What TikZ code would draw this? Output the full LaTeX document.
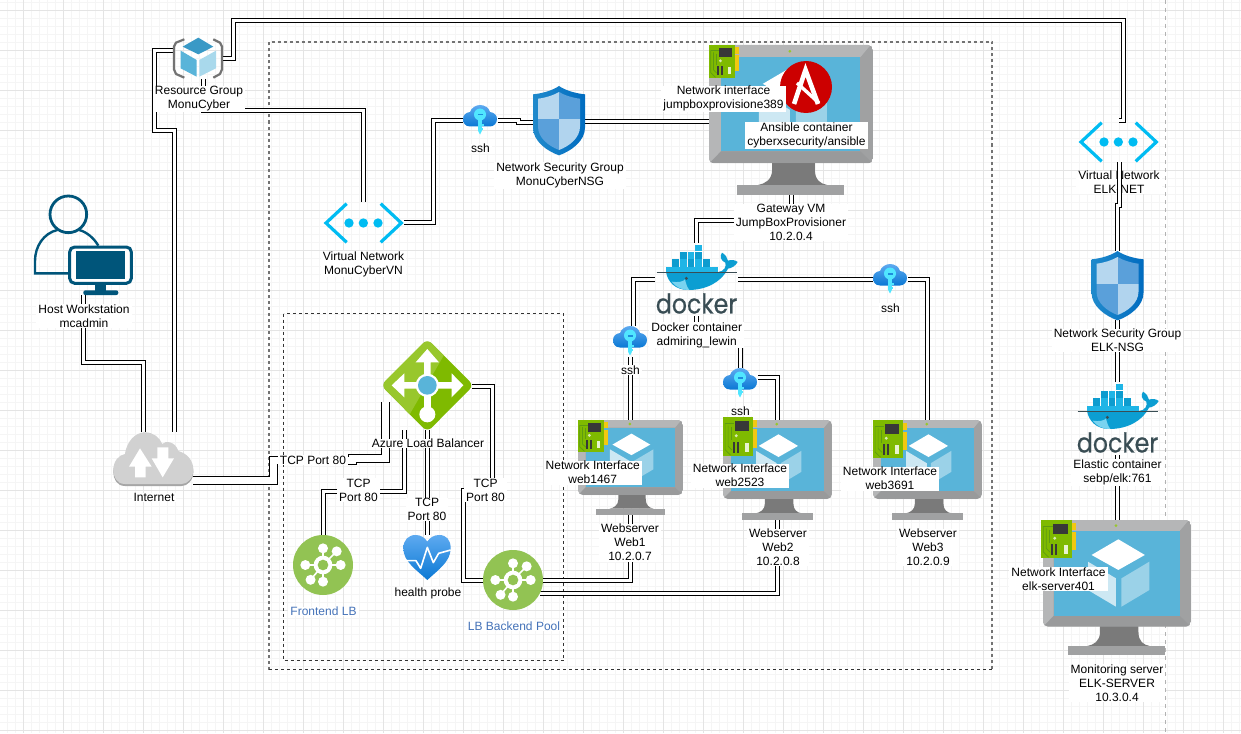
\documentclass[tikz,border=0pt]{standalone}
\usepackage{fontspec}
\setmainfont{Liberation Sans}
\newfontfamily\dockerfont[FakeBold=0.5]{Poppins}
\usetikzlibrary{fit,calc}
\pgfdeclarelayer{gridlayer}\pgfdeclarelayer{edgelayer}\pgfdeclarelayer{toplayer}\pgfdeclarelayer{overlayer}
\pgfsetlayers{gridlayer,edgelayer,main,toplayer,overlayer}
\definecolor{gridmaj}{HTML}{E4E4E4}
\definecolor{gridmin}{HTML}{F5F5F5}
\definecolor{azgreen}{HTML}{7FBA00}
\definecolor{azgreenl}{HTML}{98C72C}
\definecolor{hubgreen}{HTML}{92C353}
\definecolor{azscreen}{HTML}{59B4D9}
\definecolor{framedk}{HTML}{A0A1A2}
\definecolor{framelt}{HTML}{B5B6B7}
\definecolor{neckgr}{HTML}{7A7A7A}
\definecolor{vnetblue}{HTML}{00BCF2}
\definecolor{persblue}{HTML}{00557A}
\definecolor{lblblue}{HTML}{4472B8}
\definecolor{nictab}{HTML}{F2C811}
\definecolor{nictrace}{HTML}{5E9B12}
\definecolor{dockertxt}{HTML}{394D54}
\definecolor{hullblue}{HTML}{0C9ED2}
\definecolor{contA}{HTML}{1FB5E6}
\definecolor{contB}{HTML}{0D9CCF}
\definecolor{gradtop}{RGB}{94,170,240}
\definecolor{gradbot}{RGB}{10,120,212}
\definecolor{shieldl}{RGB}{32,138,204}
\definecolor{shieldr}{RGB}{0,108,192}
\definecolor{panelA}{RGB}{182,215,239}
\definecolor{panelB}{RGB}{90,160,218}
\definecolor{panelC}{RGB}{177,212,238}
\definecolor{keycyan}{RGB}{80,230,255}
\definecolor{keyslot}{RGB}{30,140,220}
\definecolor{rgtop}{RGB}{57,153,198}
\definecolor{rgright}{RGB}{169,217,236}
\definecolor{ansred}{RGB}{204,0,0}
\tikzset{
  zoomed/.style={x=.33333pt,y=-.33333pt},
  iconbox/.style={inner sep=0pt,outer sep=0pt,draw=none},
  conn/.style={draw=black,line width=1pt,double=white,double distance=3pt,line join=miter},
  connwide/.style={draw=black,line width=1pt,double=white,double distance=7pt,line join=miter},
  lab/.style={fill=white,inner xsep=2pt,inner ysep=.5pt,align=center,font=\fontsize{12}{14}\selectfont},
  bluelab/.style={lab,text=lblblue},
  dashbox/.style={draw=black!80,line width=1pt,dash pattern=on 3pt off 3pt},
  dashsoft/.style={draw=black!55,line width=2pt,dash pattern=on 3pt off 3pt},
  dockerword/.style={inner sep=0pt,text=dockertxt,font=\dockerfont\fontsize{23.7}{23.7}\selectfont},
}
\newcommand{\lbl}[4][lab]{\node[#1] (#2) at (#3) {#4};}
% virtual machine monitor
\newcommand{\vmicon}[5]{%
  \node[iconbox,fit={(#2,#3) (#4,#5)}] (#1) {};
  \pgfmathsetmacro\vmw{#4-#2}\pgfmathsetmacro\vmh{#5-#3}
  \begin{scope}[shift={(#2,#3)},x=\vmw pt,y=-\vmh pt]
    \fill[neckgr] (.385,.78) -- (.385,.83) .. controls (.385,.9) and (.34,.925) .. (.30,.933) -- (.72,.933) .. controls (.68,.925) and (.645,.9) .. (.645,.83) -- (.645,.78) -- cycle;
    \fill[framedk] (.17,.933) rectangle (.826,1);
    \begin{scope}
      \clip[rounded corners=5pt] (0,0) rectangle (1,.79);
      \fill[framedk] (0,0) rectangle (1,.79);
      \fill[framelt] (0,0) -- (.985,0) -- (.923,.081) -- (.072,.081) -- (.072,.709) -- (0,.79) -- cycle;
      \fill[framedk!85!black,opacity=.25] (.072,.709) -- (0,.79) -- (1,.79) -- (.923,.709) -- cycle;
    \end{scope}
    \fill[azscreen] (.072,.081) rectangle (.923,.709);
    \fill[azgreenl] (.493,.042) circle (1.5pt);
    \fill[white] (.509,.143) -- (.688,.259) -- (.509,.370) -- (.328,.259) -- cycle;
    \fill[white,opacity=.7] (.304,.309) -- (.493,.432) -- (.493,.642) -- (.304,.519) -- cycle;
    \fill[white,opacity=.4] (.530,.432) -- (.718,.309) -- (.718,.519) -- (.530,.642) -- cycle;
  \end{scope}}
% network interface card
\newcommand{\nicicon}[5]{%
  \node[iconbox,fit={(#2,#3) (#4,#5)}] (#1) {};
  \pgfmathsetmacro\vmw{#4-#2}\pgfmathsetmacro\vmh{#5-#3}
  \begin{scope}[shift={(#2,#3)},x=\vmw pt,y=-\vmh pt]
    \fill[nictab] (1,.07) rectangle (1.14,.26);
    \fill[nictab] (1,.31) rectangle (1.14,.79);
    \fill[azgreen] (0,0) rectangle (1,1);
    \draw[nictrace,line width=.7pt] (.07,.16) -- (.07,.84) -- (.25,.98);
    \draw[nictrace,line width=.7pt] (.17,.22) -- (.17,.75) -- (.3,.85);
    \draw[nictrace,line width=.7pt] (.07,.16) -- (.38,.16);
    \draw[nictrace,line width=.7pt] (.28,.26) -- (.28,.6);
    \fill[black!78] (.39,.1) rectangle (.88,.36);
    \fill[azgreen!30!white] (.44,.48) circle (1.6pt);
    \fill[black!78] (.32,.64) rectangle (.4,.92);
    \fill[black!78] (.45,.64) rectangle (.53,.92);
    \fill[azgreen!18!white] (.74,.66) rectangle (.86,.89);
  \end{scope}}
% cloud with key
\newcommand{\sshicon}[3]{%
  \node[iconbox,fit={(#2,#3) ($(#2,#3)+(35,31)$)}] (#1) {};
  \begin{scope}[shift={(#2,#3)}]
    \path[top color=gradtop,bottom color=gradbot]
      (7,21.5) .. controls (2,21.5) and (0,17.5) .. (0,14) .. controls (0,10) and (3,7.5) .. (7,7) .. controls (8,3) and (13,0) .. (17,0) .. controls (22,0) and (26,3) .. (27,7) .. controls (31,7.5) and (34,10) .. (34,14) .. controls (34,18) and (31,21.5) .. (27,21.5) -- cycle;
    \fill[keycyan] (17,9.5) circle (6);
    \fill[keycyan] (15.2,13) -- (18.8,13) -- (18.8,26) -- (17,29.5) -- (15.2,26) -- cycle;
    \fill[keycyan] (18.8,19) rectangle (20.5,21);
    \fill[keycyan] (18.8,23) rectangle (20,25);
    \fill[keyslot] (14.5,9) rectangle (19.5,10.5);
  \end{scope}}
% security shield
\newcommand{\shieldicon}[3]{%
  \node[iconbox,fit={(#2,#3) ($(#2,#3)+(52,69)$)}] (#1) {};
  \begin{scope}[shift={(#2,#3)},zoomed]
    \path[left color=shieldl,right color=shieldr]
      (78,0) .. controls (95,12) and (125,22) .. (156,25) -- (156,125) .. controls (156,165) and (115,195) .. (78,208) .. controls (41,195) and (0,165) .. (0,125) -- (0,25) .. controls (31,22) and (61,12) .. (78,0) -- cycle;
    \begin{scope}
      \clip (78,18) .. controls (95,28) and (120,36) .. (141,38) -- (141,122) .. controls (141,155) and (110,180) .. (78,192) .. controls (46,180) and (15,155) .. (15,122) -- (15,38) .. controls (36,36) and (61,28) .. (78,18) -- cycle;
      \fill[panelA] (0,0) rectangle (78,98);
      \fill[panelB] (78,0) rectangle (156,98);
      \fill[panelB] (0,98) rectangle (78,208);
      \fill[panelC] (78,98) rectangle (156,208);
    \end{scope}
  \end{scope}}
% virtual network
\newcommand{\vneticon}[3]{%
  \node[iconbox,fit={(#2,#3) ($(#2,#3)+(80,41)$)}] (#1) {};
  \begin{scope}[shift={(#2,#3)},zoomed]
    \draw[vnetblue,line width=3.2pt] (68,5) -- (6,63) -- (68,121);
    \draw[vnetblue,line width=3.2pt] (170,5) -- (232,63) -- (170,121);
    \fill[vnetblue] (75,63) circle (14) (118,63) circle (14) (162,63) circle (14);
  \end{scope}}
% docker whale and word
\newcommand{\dockericon}[3]{%
  \node[iconbox,fit={($(655,243)+(#2,#3)$) ($(738,316)+(#2,#3)$)}] (#1) {};
  \node[dockerword] (#1word) at ($(696.5,303.5)+(#2,#3)$) {\scalebox{1}[1.15]{docker}};
  \begin{scope}[shift={($(650,240)+(#2,#3)$)},zoomed]
    \foreach \xa/\xb in {67/88,113/133,158/180}{\fill[contB] (\xa,58) rectangle (\xb,80);}
    \foreach \xa/\xb in {90/110,135/156}{\fill[contA] (\xa,58) rectangle (\xb,80);}
    \foreach \xa/\xb in {90/110,135/156}{\fill[contB] (\xa,36) rectangle (\xb,56);}
    \fill[contA] (113,36) rectangle (133,56);
    \fill[contA] (135,15) rectangle (156,34);
    \fill[contA] (48,82) rectangle (205,98);
    \fill[hullblue] (48,96) -- (205,96) .. controls (222,94) and (230,80) .. (226,68) .. controls (212,62) and (208,48) .. (216,38) .. controls (226,44) and (232,52) .. (234,62) .. controls (244,58) and (256,60) .. (263,66) .. controls (256,78) and (246,84) .. (234,86) .. controls (215,125) and (170,150) .. (115,150) .. controls (75,150) and (53,125) .. (48,96) -- cycle;
    \fill[contA!60!white] (65,125) .. controls (85,128) and (100,125) .. (105,118) .. controls (108,130) and (110,140) .. (118,150) .. controls (95,150) and (78,142) .. (65,125) -- cycle;
    \fill[dockertxt] (109,115) circle (5);
    \draw[dockertxt,line width=.8pt] (20,98) -- (262,98);
  \end{scope}}
% backend / frontend hub
\newcommand{\hubicon}[3]{%
  \node[circle,iconbox,fill=hubgreen,minimum size=60pt] (#1) at (#2,#3) {};
  \begin{scope}[shift={(#2,#3)},zoomed]
    \foreach \ang/\rad in {90/50,130/58,180/53,270/50,315/58,0/53}{
      \draw[white,line width=1.6pt] (0,0) -- (\ang:\rad);
      \fill[white] (\ang:\rad) circle (15);
    }
    \fill[white] (0,0) circle (28);
    \fill[hubgreen] (0,0) circle (16);
  \end{scope}}
\begin{document}
\begin{tikzpicture}[x=1pt,y=-1pt]
\useasboundingbox (0,0) rectangle (1241,733);
\begin{pgfonlayer}{gridlayer}
  \fill[white] (0,0) rectangle (1241,733);
  \foreach \k in {0,...,155}{\draw[gridmin,line width=.8pt] ({\k*8-.5},0) -- ({\k*8-.5},733);}
  \foreach \k in {0,...,92}{\draw[gridmin,line width=.8pt] (0,{\k*8+2.5}) -- (1241,{\k*8+2.5});}
  \foreach \k in {0,...,30}{\draw[gridmaj,line width=1pt] ({\k*40+23.5},0) -- ({\k*40+23.5},733);}
  \foreach \k in {0,...,18}{\draw[gridmaj,line width=1pt] (0,{\k*40+10.5}) -- (1241,{\k*40+10.5});}
\end{pgfonlayer}

% ---------- icons ----------
\node[iconbox,fit={(173,38) (223,79)}] (rg) {};
\begin{scope}[zoomed]
  \draw[black!55,line width=2.2pt,line join=round] (553,118) -- (528,128) -- (522,140) -- (522,208) -- (528,222) -- (553,233);
  \draw[black!55,line width=2.2pt,line join=round] (640,118) -- (660,128) -- (666,140) -- (666,208) -- (660,222) -- (640,233);
  \fill[rgtop] (595,113) -- (640,140) -- (595,163) -- (548,140) -- cycle;
  \fill[azscreen] (542,152) -- (590,180) -- (590,230) -- (542,205) -- cycle;
  \fill[rgright] (598,180) -- (648,152) -- (648,205) -- (598,230) -- cycle;
\end{scope}

\node[iconbox,fit={(34,195) (133,295)}] (person) {};
\begin{scope}[shift={(0,185)},zoomed]
  \draw[persblue,line width=2.8pt] (205,88) circle (55);
  \draw[persblue,line width=2.4pt,line join=miter] (210,265) -- (105,265) -- (105,228) .. controls (105,185) and (130,145) .. (172,135);
  \draw[persblue,line width=2.4pt] (238,135) .. controls (262,142) and (282,160) .. (295,182);
  \draw[persblue,line width=3pt,rounded corners=5pt,fill=white] (209,186) rectangle (394,295);
  \fill[persblue] (228,198) rectangle (376,282);
  \fill[persblue] (285,298) rectangle (318,318);
  \fill[persblue,rounded corners=2pt] (250,316) rectangle (355,330);
\end{scope}

\node[iconbox,fit={(113,432) (193,486)}] (inet) {};
\begin{scope}[shift={(100,320)},zoomed]
  \foreach \off/\col in {6/black!35,0/black!18}{
  \fill[\col,yshift=-\off*.3333pt] (75,492) .. controls (50,492) and (40,470) .. (40,450) .. controls (40,425) and (55,405) .. (75,402) .. controls (80,365) and (105,337) .. (135,337) .. controls (160,337) and (178,352) .. (187,372) .. controls (195,362) and (225,362) .. (235,393) .. controls (260,400) and (280,420) .. (280,450) .. controls (280,475) and (262,492) .. (245,492) -- cycle;}
  \fill[white] (120,385) -- (155,440) -- (137,440) -- (137,472) -- (105,472) -- (105,440) -- (87,440) -- cycle;
  \fill[white] (188,472) -- (222,415) -- (205,415) -- (205,382) -- (172,382) -- (172,415) -- (155,415) -- cycle;
\end{scope}

\vneticon{vnetA}{324}{202}
\vneticon{vnetE}{1079}{121}
\sshicon{sshA}{463}{105}
\sshicon{ssh1}{613}{326}
\sshicon{ssh2}{723}{368}
\sshicon{ssh3}{873}{264}
\shieldicon{nsgA}{533}{86}
\shieldicon{nsgE}{1091.5}{251}

\vmicon{jump}{709}{45}{873}{195}
\nicicon{nicJ}{709}{45}{735}{78}
\fill[ansred] (806,87) circle (26);
\draw[white,line width=4.6pt,line join=miter] (794,104) -- (805.5,70) -- (818,104);
\draw[white,line width=3.4pt] (797,83) -- (819,103);

\vmicon{web1}{578}{420}{683}{515}
\nicicon{nic1}{578}{420}{604}{452}
\vmicon{web2}{723}{420}{832}{520}
\nicicon{nic2}{723}{417}{753}{456}
\vmicon{web3}{873}{420}{982}{520}
\nicicon{nic3}{873}{420}{903}{458}
\vmicon{elk}{1043}{520}{1191}{655}
\nicicon{nicE}{1041}{520}{1072}{558}

\dockericon{dockA}{0}{0}
\dockericon{dockE}{421}{139}

% load balancer
\node[iconbox,fit={(383,342) (472,430)}] (lb) {};
\begin{scope}[shift={(375,335)},zoomed]
  \fill[azgreen,rounded corners=6pt] (157,12) -- (296,151) -- (157,291) -- (18,151) -- cycle;
  \begin{scope}
    \clip[rounded corners=6pt] (157,12) -- (296,151) -- (157,291) -- (18,151) -- cycle;
    \fill[azgreenl] (0,0) -- (210,0) -- (210,55) -- (100,245) -- (0,245) -- cycle;
  \end{scope}
  \fill[white] (157,42) -- (192,82) -- (167,82) -- (167,140) -- (147,140) -- (147,82) -- (122,82) -- cycle;
  \fill[white] (50,151) -- (88,115) -- (88,141) -- (130,141) -- (130,161) -- (88,161) -- (88,187) -- cycle;
  \fill[white] (265,151) -- (230,115) -- (230,141) -- (185,141) -- (185,161) -- (230,161) -- (230,187) -- cycle;
  \fill[white] (147,160) rectangle (167,220);
  \fill[white] (157,238) circle (24);
  \fill[white] (157,151) circle (35);
  \fill[azscreen] (157,151) circle (28);
\end{scope}

\hubicon{fe}{323}{565}
\hubicon{pool}{513}{580}

% health probe
\node[iconbox,fit={(403,535) (452,580)}] (probe) {};
\begin{scope}[shift={(100,320)},zoomed]
  \path[top color=gradtop,bottom color=gradbot]
    (982,780) .. controls (950,750) and (910,725) .. (910,685) .. controls (910,660) and (925,645) .. (947,645) .. controls (962,645) and (975,653) .. (982,665) .. controls (989,653) and (1002,645) .. (1017,645) .. controls (1040,645) and (1052,660) .. (1052,685) .. controls (1052,725) and (1014,750) .. (982,780) -- cycle;
  \draw[white,line width=1.6pt,line join=round] (915,722) -- (948,722) -- (962,745) -- (982,682) -- (1000,728) -- (1016,700) -- (1052,690);
\end{scope}

% ---------- labels ----------
\begin{pgfonlayer}{toplayer}
  \lbl{lrg}{199,98.7}{Resource Group\\MonuCyber}
  \lbl{lvnetA}{363.5,264}{Virtual Network\\MonuCyberVN}
  \lbl{lhost}{84,316}{Host Workstation\\mcadmin}
  \lbl{lsshA}{480.5,148.5}{ssh}
  \lbl{lnsgA}{560,175.5}{Network Security Group\\MonuCyberNSG}
  \lbl{lnicJ}{723.5,98.7}{Network interface\\jumpboxprovisione389}
  \lbl{lans}{806.5,135.5}{Ansible container\\cyberxsecurity/ansible}
  \lbl{ljump}{791,222.5}{Gateway VM\\JumpBoxProvisioner\\10.2.0.4}
  \lbl{ldockA}{696.7,335}{Docker container\\admiring\_lewin}
  \lbl{lssh1}{630.5,370}{ssh}
  \lbl{lssh2}{740.5,411.5}{ssh}
  \lbl{lssh3}{890.5,308}{ssh}
  \lbl{lnic1}{592.7,472.7}{Network Interface\\web1467}
  \lbl{lnic2}{740,475.7}{Network Interface\\web2523}
  \lbl{lnic3}{890,478.7}{Network Interface\\web3691}
  \lbl{lweb1}{630,542.7}{Webserver\\Web1\\10.2.0.7}
  \lbl{lweb2}{778,547.5}{Webserver\\Web2\\10.2.0.8}
  \lbl{lweb3}{928,547.5}{Webserver\\Web3\\10.2.0.9}
  \lbl{linet}{154,497.5}{Internet}
  \lbl{llb}{428,443.5}{Azure Load Balancer}
  \lbl{ltcpA}{313,460}{TCP Port 80}
  \lbl{ltcpB}{358.5,490}{TCP\\Port 80}
  \lbl{ltcpC}{427,509.5}{TCP\\Port 80}
  \lbl{ltcpD}{485.5,490}{TCP\\Port 80}
  \lbl[bluelab]{lfe}{323.5,611.5}{Frontend LB}
  \lbl{lprobe}{428,593.5}{health probe}
  \lbl[bluelab]{lpool}{514,626.5}{LB Backend Pool}
  \lbl{lvnetE}{1119,182.5}{Virtual Network\\ELK-NET}
  \lbl{lnsgE}{1117.5,340.5}{Network Security Group\\ELK-NSG}
  \lbl{ldockE}{1117.5,472.5}{Elastic container\\sebp/elk:761}
  \lbl{lnicE}{1058.5,579}{Network Interface\\elk-server401}
  \lbl{lelk}{1117,683}{Monitoring server\\ELK-SERVER\\10.3.0.4}
\end{pgfonlayer}

% ---------- connectors and frames ----------
\coordinate (lbport) at (385.5,402);
\begin{pgfonlayer}{edgelayer}
  \draw[dashsoft] (269,669.5) -- (269,42) -- (992,42) -- (992,669.5);
  \draw[dashbox] (269,669.5) -- (992,669.5);
  \draw[dashbox] (283.5,313.5) rectangle (563.5,660.5);
  \draw[draw=black!30,line width=1pt,dash pattern=on 4pt off 4pt] (1165.5,0) -- (1165.5,733);

  \draw[conn] (rg.east) -- (233.5,58.5) -- (233.5,20.5) -- (1123.5,20.5) -- (1123.5,120.5) -- (vnetE.north |- 0,120.5);
  \draw[conn] (rg.west |- 0,50.5) -- (154.5,50.5) -- (154.5,130.5) -- (174.5,130.5) -- (inet.north -| 174.5,0);
  \draw[conn] (rg.south -| 203.5,0) -- (203.5,110.5) -- (363.5,110.5) -- (vnetA.north -| 363.5,0);
  \draw[conn] (vnetA.east) -- (433.5,222.5) -- (433.5,120.5) -- (sshA.west);
  \draw[conn] (sshA.east) -- (518.5,120.5) -- (518.5,122.5) -- (nsgA.west |- 0,122.5);
  \draw[conn] (nsgA.east |- 0,121.5) -- (jump.west |- 0,121.5);
  \draw[conn] (person.south) -- (83.5,362.5) -- (143.5,362.5) -- (inet.north -| 143.5,0);
  \draw[connwide] (inet.east |- 0,480.5) -- (273.5,480.5) -- (273.5,460.5) -- (352.5,460.5) -- (352.5,458.5) -- (385.5,458.5) -- (lbport);
  \draw[conn] (lb.south -| 404.5,0) -- (404.5,491.5) -- (323.5,491.5) -- (fe.north -| 323.5,0);
  \draw[conn] (lb.south) -- (probe.north);
  \draw[conn] (lb.east |- 0,386.5) -- (492.5,386.5) -- (492.5,490.5) -- (463.5,490.5) -- (463.5,580.5) -- (pool.west |- 0,580.5);
  \draw[conn] (pool.east |- 0,580.5) -- (630.5,580.5) -- (web1.south);
  \draw[conn] (pool.-27 |- 0,593.5) -- (777.5,593.5) -- (web2.south);
  \draw[conn] (jump.south -| 791.5,0) -- (791.5,220.5) -- (696.5,220.5) -- (dockA.north);
  \draw[conn] (dockA.west) -- (633.5,279.5) -- (ssh1.north -| 633.5,0);
  \draw[conn] (ssh1.south) -- (web1.north);
  \draw[conn] (dockA.east) -- (ssh3.west);
  \draw[conn] (ssh3.east) -- (927.5,279.5) -- (web3.north);
  \draw[conn] (dockA.south) -- (696.5,340.5) -- (740.5,340.5) -- (ssh2.north);
  \draw[conn] (ssh2.east |- 0,377.5) -- (777.5,377.5) -- (web2.north);
  \draw[conn] (nsgE.south) -- (dockE.north);
  \draw[conn] (dockE.south) -- (elk.north -| dockE.south);
\end{pgfonlayer}
\begin{pgfonlayer}{overlayer}
  \draw[conn] (vnetE.south -| 1119.5,0) -- (1119.5,205.5) -- (1117.5,205.5) -- (nsgE.north);
\end{pgfonlayer}
\end{tikzpicture}
\end{document}
